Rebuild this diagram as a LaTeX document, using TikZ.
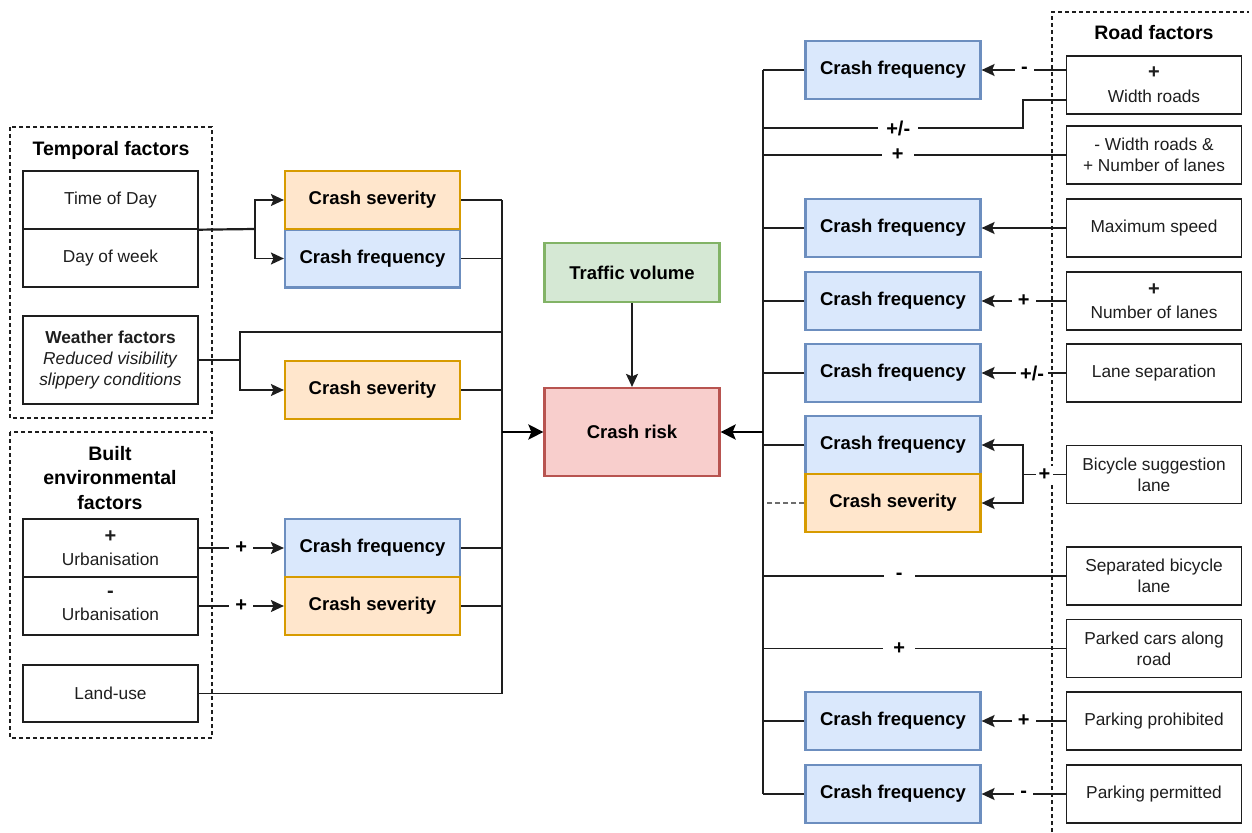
\documentclass[tikz,border=0pt]{standalone}
\usepackage{fontspec}
\setmainfont{Liberation Sans}
\usetikzlibrary{arrows.meta,calc}

\definecolor{freqFill}{HTML}{DAE8FC}
\definecolor{freqLine}{HTML}{6C8EBF}
\definecolor{sevFill}{HTML}{FFE6CC}
\definecolor{sevLine}{HTML}{D79B00}
\definecolor{volFill}{HTML}{D5E8D4}
\definecolor{volLine}{HTML}{82B366}
\definecolor{riskFill}{HTML}{F8CECC}
\definecolor{riskLine}{HTML}{B85450}
\definecolor{ink}{HTML}{1E1E1E}

\tikzset{
  basebox/.style={rectangle, inner sep=0pt, minimum width=175pt, minimum height=58pt, align=center},
  factbox/.style={basebox, draw=ink, fill=white, line width=1.4pt, text=ink,
    font=\fontsize{17.3}{21}\selectfont},
  freqbox/.style={basebox, draw=freqLine, fill=freqFill, line width=2.2pt,
    font=\fontsize{18.5}{22}\selectfont\bfseries},
  sevbox/.style={basebox, draw=sevLine, fill=sevFill, line width=2.2pt,
    font=\fontsize{18.5}{22}\selectfont\bfseries},
  conn/.style={draw=ink, line width=1.7pt},
  arr/.style={conn, -{Stealth[length=13pt,width=12pt,inset=2.5pt]}},
  bigarr/.style={draw=black, line width=2.8pt, -{Stealth[length=15pt,width=15pt,inset=3pt]}},
  sign/.style={fill=white, inner xsep=6pt, inner ysep=3pt, font=\fontsize{20}{22}\selectfont\bfseries},
  grp/.style={draw=ink, line width=1.3pt, dash pattern=on 4pt off 3pt},
  grptitle/.style={align=center, font=\fontsize{19.5}{24.5}\selectfont\bfseries},
}

\begin{document}
\begin{tikzpicture}[x=1pt, y=-1pt]
  \fill[white] (0,0) rectangle (1252,832);
  \useasboundingbox (0,0) rectangle (1252,832);

  % ---------- group frames ----------
  \draw[grp] (10,127) rectangle (212,418);
  \node[grptitle] (tTemporal) at (111,150) {Temporal factors};
  \draw[grp] (10,432) rectangle (212,738);
  \node[grptitle] (tBuilt) at (110,478) {Built\\environmental\\factors};
  \draw[grp] (1052,832) -- (1052,12) -- (1249,12);
  \node[grptitle] (tRoad) at (1154,33) {Road factors};

  % ---------- left factors ----------
  \node[factbox] (tod) at (110.5,200) {Time of Day};
  \node[factbox] (dow) at (110.5,258) {Day of week};
  \node[factbox, minimum height=88pt] (wf) at (110.5,360)
    {\textbf{Weather factors}\\\textit{Reduced visibility}\\\textit{slippery conditions}};
  \node[factbox] (urbp) at (110.5,548) {\textbf{\fontsize{20}{21}\selectfont +}\\[2pt]Urbanisation};
  \node[factbox] (urbm) at (110.5,606) {\textbf{\fontsize{20}{21}\selectfont -}\\[2pt]Urbanisation};
  \node[factbox, minimum height=57pt] (lu) at (110.5,693.5) {Land-use};

  % ---------- left effects ----------
  \node[freqbox] (lf1) at (372.5,258.5) {Crash frequency};
  \node[sevbox]  (ls1) at (372.5,200) {Crash severity};
  \node[sevbox]  (ls2) at (372.5,390) {Crash severity};
  \node[freqbox] (lf2) at (372.5,548) {Crash frequency};
  \node[sevbox]  (ls3) at (372.5,606) {Crash severity};

  % ---------- centre ----------
  \node[basebox, draw=volLine, fill=volFill, line width=2.2pt, minimum height=59pt,
        font=\fontsize{18.5}{22}\selectfont\bfseries] (tv) at (632,272.5) {Traffic volume};
  \node[basebox, draw=riskLine, fill=riskFill, line width=2.2pt, minimum height=88pt,
        font=\fontsize{18.5}{22}\selectfont\bfseries] (risk) at (632,432) {Crash risk};

  % ---------- right effects ----------
  \node[freqbox] (rf1) at (893,70) {Crash frequency};
  \node[freqbox] (rf2) at (893,228) {Crash frequency};
  \node[freqbox] (rf3) at (893,301) {Crash frequency};
  \node[freqbox] (rf4) at (893,373) {Crash frequency};
  \node[freqbox] (rf5) at (893,445) {Crash frequency};
  \node[sevbox]  (rs5) at (893,503) {Crash severity};
  \node[freqbox] (rf6) at (893,721) {Crash frequency};
  \node[freqbox] (rf7) at (893,794) {Crash frequency};

  % ---------- right factors ----------
  \node[factbox] (wr) at (1154,85) {\textbf{\fontsize{20}{21}\selectfont +}\\[3pt]Width roads};
  \node[factbox] (wn) at (1154,155) {- Width roads \&\\+ Number of lanes};
  \node[factbox] (ms) at (1154,228) {Maximum speed};
  \node[factbox] (nl) at (1154,301) {\textbf{\fontsize{20}{21}\selectfont +}\\[2pt]Number of lanes};
  \node[factbox] (lsep) at (1154,373) {Lane separation};
  \node[factbox] (bsl) at (1154,474.5) {Bicycle suggestion\\lane};
  \node[factbox] (sbl) at (1154,576) {Separated bicycle\\lane};
  \node[factbox] (pc) at (1154,648.5) {Parked cars along\\road};
  \node[factbox] (pp) at (1154,721) {Parking prohibited};
  \node[factbox] (pm) at (1154,794) {Parking permitted};

  % ---------- junctions and collector lines ----------
  \coordinate (busLt) at (502,200);
  \coordinate (busLb) at (502,693.5);
  \coordinate (busRt) at (763,70);
  \coordinate (busRb) at (763,794);
  \coordinate (jT) at (255,229);
  \coordinate (jW) at (240,360);
  \coordinate (jWtop) at (502,332);
  \coordinate (jWR) at (1023,100);
  \coordinate (jPM) at (763,128);
  \coordinate (jB) at (1023,474.5);
  \coordinate (jS) at (766,503);

  \draw[conn] (busLt) -- (busLb);
  \draw[conn] (busRt) -- (busRb);

  % temporal factors
  \draw[conn, line width=2.2pt] (tod.south east) -- (jT);
  \draw[arr] (jT) |- (ls1.west);
  \draw[arr] (jT) |- (lf1.west);
  % weather factors
  \draw[conn, line width=2pt] (wf.east) -- (jW);
  \draw[conn] (jW) |- (jWtop);
  \draw[arr] (jW) |- (ls2.west);
  % built environment
  \draw[arr] (urbp.east) -- node[sign] {+} (lf2.west);
  \draw[arr] (urbm.east) -- node[sign] {+} (ls3.west);
  \draw[conn] (lu.east) -- (busLb);

  % left effects into the collector
  \foreach \n in {ls1,lf1,ls2,lf2,ls3}
    \draw[conn] (\n.east) -- (\n.east -| busLt);

  % right effects into the collector
  \foreach \n in {rf1,rf2,rf3,rf4,rf5,rf6,rf7}
    \draw[conn] (\n.west) -- (\n.west -| busRt);
  \draw[conn, draw=ink!65, dash pattern=on 5pt off 3pt] (rs5.west) -- (jS);

  % road factors
  \draw[arr] ($(wr.west)+(0,-15)$) -- node[sign, pos=0.49] {-} (rf1.east);
  \draw[conn] ($(wr.west)+(0,15)$) -- (jWR) -- ++(0,28) -- node[sign, pos=0.48, inner xsep=8pt] {+/-} (jPM);
  \draw[conn] (wn.west) -- node[sign, pos=0.555, inner xsep=10pt] {+} (wn.west -| busRt);
  \draw[arr] (ms.west) -- (rf2.east);
  \draw[arr] (nl.west) -- node[sign, pos=0.5] {+} (rf3.east);
  \draw[arr] (lsep.west) -- node[sign, pos=0.4, inner xsep=4pt] {+/-} (rf4.east);
  \draw[conn] (bsl.west) -- node[sign, inner xsep=3pt] {+} (jB);
  \draw[arr] (jB) |- (rf5.east);
  \draw[arr] (jB) |- (rs5.east);
  \draw[conn] (sbl.west) -- node[sign, pos=0.55, inner xsep=12pt] {-} (sbl.west -| busRt);
  \draw[conn] (pc.west) -- node[sign, pos=0.55, inner xsep=10pt] {+} (pc.west -| busRt);
  \draw[arr] (pp.west) -- node[sign, pos=0.5] {+} (rf6.east);
  \draw[arr] (pm.west) -- node[sign, pos=0.5] {-} (rf7.east);

  % into crash risk
  \draw[arr] (tv.south) -- (risk.north);
  \draw[bigarr] (busLt |- risk.west) -- (risk.west);
  \draw[bigarr] (busRt |- risk.east) -- (risk.east);
\end{tikzpicture}
\end{document}
